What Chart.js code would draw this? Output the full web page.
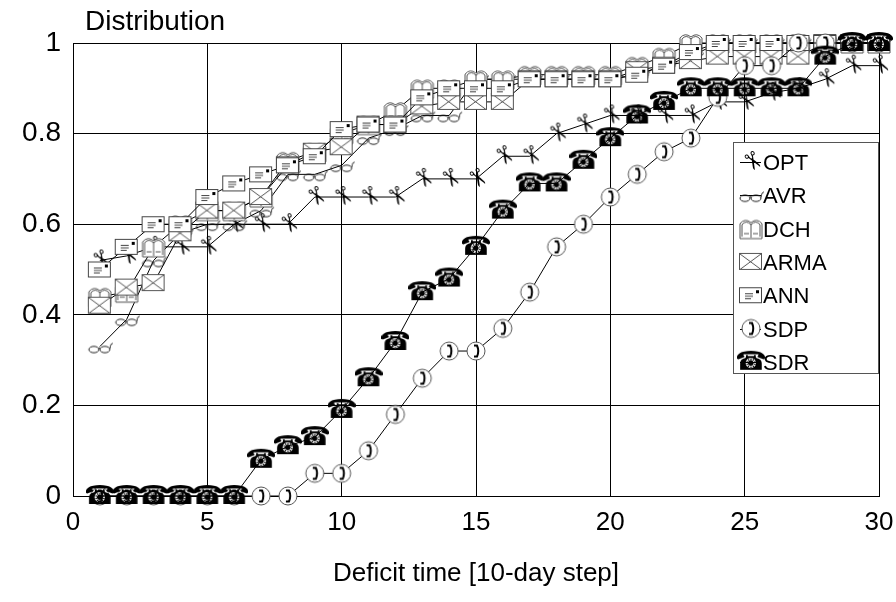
<!DOCTYPE html>
<html>
<head>
<meta charset="utf-8">
<script src="https://cdn.jsdelivr.net/npm/chart.js@4.4.0/dist/chart.umd.min.js"></script>
<style>
  html, body { margin: 0; padding: 0; background: #fff; }
  canvas { display: block; }
</style>
</head>
<body>
<canvas id="chart" width="896" height="602"></canvas>
<script>
// deficit time steps (10-day)
const steps = [1, 2, 3, 4, 5, 6, 7, 8, 9, 10, 11, 12, 13, 14, 15, 16, 17, 18, 19, 20, 21, 22, 23, 24, 25, 26, 27, 28, 29, 30];

const opt  = [0.52, 0.53, 0.55, 0.55, 0.55, 0.60, 0.60, 0.60, 0.66, 0.66, 0.66, 0.66, 0.70, 0.70, 0.70, 0.75, 0.75, 0.80, 0.82, 0.84, 0.84, 0.84, 0.84, 0.87, 0.87, 0.89, 0.90, 0.92, 0.95, 0.95];
const avr  = [0.33, 0.39, 0.52, 0.58, 0.60, 0.60, 0.63, 0.71, 0.71, 0.73, 0.79, 0.81, 0.84, 0.84, 0.92, 0.92, 0.92, 0.92, 0.92, 0.92, 0.93, 0.95, 0.97, 1.00, 1.00, 1.00, 1.00, 1.00, 1.00, 1.00];
const dch  = [0.44, 0.45, 0.55, 0.60, 0.63, 0.63, 0.66, 0.74, 0.76, 0.80, 0.82, 0.85, 0.90, 0.90, 0.92, 0.92, 0.93, 0.93, 0.93, 0.93, 0.95, 0.97, 1.00, 1.00, 1.00, 1.00, 1.00, 1.00, 1.00, 1.00];
const arma = [0.42, 0.46, 0.47, 0.58, 0.63, 0.63, 0.66, 0.73, 0.76, 0.77, 0.82, 0.82, 0.86, 0.87, 0.87, 0.87, 0.92, 0.92, 0.92, 0.92, 0.94, 0.95, 0.96, 0.97, 0.97, 0.97, 0.97, 1.00, 1.00, 1.00];
const ann  = [0.50, 0.55, 0.60, 0.60, 0.66, 0.69, 0.71, 0.73, 0.75, 0.81, 0.82, 0.82, 0.88, 0.90, 0.90, 0.90, 0.92, 0.92, 0.92, 0.92, 0.93, 0.95, 0.98, 1.00, 1.00, 1.00, 1.00, 1.00, 1.00, 1.00];
const sdp  = [0, 0, 0, 0, 0, 0, 0, 0, 0.05, 0.05, 0.10, 0.18, 0.26, 0.32, 0.32, 0.37, 0.45, 0.55, 0.60, 0.66, 0.71, 0.76, 0.79, 0.88, 0.95, 0.95, 1.00, 1.00, 1.00, 1.00];
const sdr  = [0, 0, 0, 0, 0, 0, 0.08, 0.11, 0.13, 0.19, 0.26, 0.34, 0.45, 0.48, 0.55, 0.63, 0.69, 0.69, 0.74, 0.79, 0.84, 0.87, 0.90, 0.90, 0.90, 0.90, 0.90, 0.97, 1.00, 1.00];

const names = ['OPT', 'AVR', 'DCH', 'ARMA', 'ANN', 'SDP', 'SDR'];
const series = [opt, avr, dch, arma, ann, sdp, sdr];

const FONT = '"Liberation Sans", Arial, sans-serif';

// little marker pictures, roughly like the wingdings ones in the original
function glyph(kind) {
  const c = document.createElement('canvas');
  c.width = 28; c.height = 26;
  const g = c.getContext('2d');
  g.translate(14, 13);
  g.lineWidth = 1;
  g.strokeStyle = '#333';
  g.fillStyle = '#000';
  if (kind === 'OPT') {
    g.rotate(Math.PI / 3);
    g.font = '24px "DejaVu Sans"';
    g.textAlign = 'center';
    g.textBaseline = 'middle';
    g.fillText('\u2702', 0, 0);
  } else if (kind === 'AVR') {
    g.strokeStyle = '#222';
    g.beginPath(); g.ellipse(-6, 3, 5, 3.2, 0, 0, Math.PI * 2); g.stroke();
    g.beginPath(); g.ellipse(5, 3, 5, 3.2, 0, 0, Math.PI * 2); g.stroke();
    g.beginPath(); g.moveTo(-1, 2); g.quadraticCurveTo(-0.5, 0, 0, 2); g.stroke();
    g.beginPath(); g.moveTo(10, 2); g.quadraticCurveTo(11, -4, 13, -3); g.stroke();
  } else if (kind === 'DCH') {
    g.strokeStyle = '#555';
    g.fillStyle = '#fff';
    g.beginPath();
    g.moveTo(-11, 10); g.lineTo(-11, -5); g.quadraticCurveTo(-6, -11, 0, -6);
    g.quadraticCurveTo(6, -11, 11, -5); g.lineTo(11, 10); g.closePath();
    g.fill(); g.stroke();
    g.beginPath();
    g.moveTo(-9, 8); g.lineTo(-9, -4); g.quadraticCurveTo(-5, -9, 0, -4);
    g.quadraticCurveTo(5, -9, 9, -4); g.lineTo(9, 8);
    g.moveTo(0, -5); g.lineTo(0, 9);
    g.moveTo(-7, 5); g.lineTo(-2, 5); g.moveTo(2, 5); g.lineTo(7, 5);
    g.stroke();
  } else if (kind === 'ARMA') {
    g.strokeStyle = '#555';
    g.fillStyle = '#fff';
    g.fillRect(-11, -8, 22, 16);
    g.strokeRect(-11.5, -8.5, 22, 16);
    g.beginPath();
    g.moveTo(-11, -8); g.lineTo(10, 7.5);
    g.moveTo(10, -8); g.lineTo(-11, 7.5);
    g.stroke();
  } else if (kind === 'ANN') {
    g.strokeStyle = '#444';
    g.fillStyle = '#fff';
    g.fillRect(-11, -7, 22, 15);
    g.strokeRect(-11.5, -7.5, 22, 15);
    g.fillStyle = '#000';
    g.fillRect(5, -5, 3, 3);
    g.beginPath();
    g.moveTo(-6, -1.5); g.lineTo(2, -1.5);
    g.moveTo(-6, 1); g.lineTo(2, 1);
    g.moveTo(-6, 3.5); g.lineTo(0, 3.5);
    g.stroke();
  } else if (kind === 'SDP') {
    g.strokeStyle = '#555';
    g.fillStyle = '#fff';
    g.beginPath(); g.arc(0, 0, 9, 0, Math.PI * 2); g.fill(); g.stroke();
    g.strokeStyle = '#000';
    g.lineWidth = 2;
    g.beginPath();
    g.moveTo(-2, -5.5); g.lineTo(1, -5.5);
    g.quadraticCurveTo(3.5, 0, 1, 5.5); g.lineTo(-2, 5.5);
    g.stroke();
  } else if (kind === 'SDR') {
    g.font = '26px "DejaVu Sans"';
    g.textAlign = 'center';
    g.textBaseline = 'middle';
    g.fillText('\u260E', 0, 1);
  }
  return c;
}

const glyphs = names.map(glyph);

const datasets = names.map((name, i) => ({
  label: name,
  data: steps.map((x, j) => ({x: x, y: series[i][j]})),
  borderColor: '#000',
  borderWidth: 1,
  backgroundColor: '#000',
  pointStyle: glyphs[i],
  pointRadius: 10,
  tension: 0,
  fill: false,
  clip: false,
  order: names.length - 1 - i,
}));

// legend box inside the plot, line + marker + name
const boxLegend = {
  id: 'boxLegend',
  afterDraw(chart) {
    const ctx = chart.ctx;
    const a = chart.chartArea;
    const left = a.right - 146, top = a.top + 99, w = 145, h = 231;
    ctx.save();
    ctx.fillStyle = '#fff';
    ctx.fillRect(left, top, w, h);
    ctx.strokeStyle = '#555';
    ctx.lineWidth = 1;
    ctx.strokeRect(left + 0.5, top + 0.5, w, h);
    ctx.font = '22px ' + FONT;
    ctx.textBaseline = 'middle';
    ctx.fillStyle = '#000';
    chart.data.datasets.forEach((ds, i) => {
      const y = top + 20 + i * 33.3;
      ctx.strokeStyle = '#000';
      ctx.beginPath();
      ctx.moveTo(left + 7, Math.round(y) + 0.5);
      ctx.lineTo(left + 28, Math.round(y) + 0.5);
      ctx.stroke();
      const img = ds.pointStyle;
      ctx.drawImage(img, left + 18 - img.width / 2, y - img.height / 2);
      ctx.fillText(ds.label, left + 30, y + 2);
    });
    ctx.restore();
  }
};

// "Distribution" caption above the y axis
const yCaption = {
  id: 'yCaption',
  afterDraw(chart) {
    const ctx = chart.ctx;
    ctx.save();
    ctx.font = '28px ' + FONT;
    ctx.fillStyle = '#000';
    ctx.textBaseline = 'alphabetic';
    ctx.fillText('Distribution', chart.chartArea.left + 12, 30);
    ctx.restore();
  }
};

new Chart(document.getElementById('chart').getContext('2d'), {
  type: 'line',
  data: {datasets: datasets},
  plugins: [boxLegend, yCaption],
  options: {
    responsive: false,
    animation: false,
    devicePixelRatio: 1,
    layout: {padding: {top: 43, right: 17, left: 0, bottom: 0}},
    plugins: {
      legend: {display: false},
      tooltip: {enabled: false},
      title: {display: false},
    },
    scales: {
      x: {
        type: 'linear',
        min: 0,
        max: 30,
        ticks: {stepSize: 5, color: '#000', font: {size: 26, family: FONT}, padding: 11, maxRotation: 0},
        grid: {color: '#000', drawTicks: false},
        border: {color: '#000'},
        title: {display: true, text: 'Deficit time [10-day step]', color: '#000', font: {size: 26, family: FONT}, padding: {top: 0, bottom: 13}},
        afterFit(s) { s.height = 106; s.paddingLeft = 0; s.paddingRight = 0; },
      },
      y: {
        min: 0,
        max: 1,
        ticks: {
          stepSize: 0.2, color: '#000', font: {size: 28, family: FONT}, padding: 12,
          callback: (v) => String(Math.round(v * 10) / 10),
        },
        grid: {color: '#000', drawTicks: false},
        border: {color: '#000'},
        afterFit(s) { s.width = 73; s.paddingTop = 0; s.paddingBottom = 0; },
      },
    },
  },
});
</script>
</body>
</html>
